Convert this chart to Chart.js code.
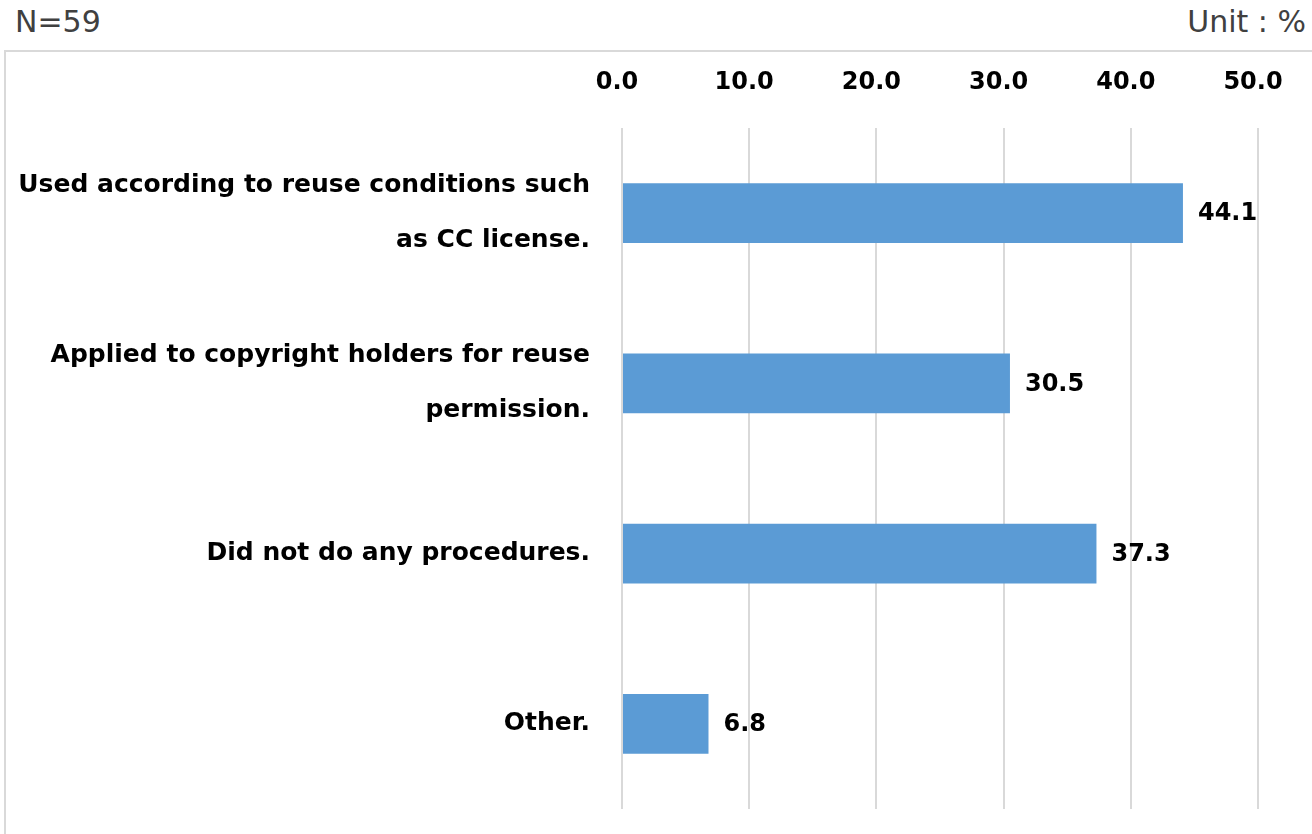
<!DOCTYPE html>
<html>
<head>
<meta charset="utf-8">
<script src="https://cdn.jsdelivr.net/npm/chart.js@4/dist/chart.umd.min.js"></script>
<style>
  html, body { margin: 0; padding: 0; background: #fff; width: 1312px; height: 834px; overflow: hidden; }
  #n { position: absolute; left: 15px; top: 4px; font: 30px "DejaVu Sans", sans-serif; color: #404040; }
  #unit { position: absolute; right: 6px; top: 4px; font: 30px "DejaVu Sans", sans-serif; color: #404040; }
  #box { position: absolute; left: 4px; top: 50px; width: 1400px; height: 900px; border: 2px solid #d9d9d9; box-sizing: border-box; }
  #wrap { position: absolute; left: 0; top: 0; width: 1312px; height: 834px; }
</style>
</head>
<body>
<div id="n">N=59</div>
<div id="unit">Unit : %</div>
<div id="box"></div>
<div id="wrap"><canvas id="c"></canvas></div>
<script>
const categories = [
  ["Used according to reuse conditions such", "as CC license."],
  ["Applied to copyright holders for reuse", "permission."],
  "Did not do any procedures.",
  "Other."
];
const values = [44.1, 30.5, 37.3, 6.8];
const axisMin = 0;
const axisMax = 50;
const axisStep = 10;

const FONT = '"DejaVu Sans", sans-serif';

const valueLabels = {
  id: 'valueLabels',
  afterDatasetsDraw(chart) {
    const ctx = chart.ctx;
    const meta = chart.getDatasetMeta(0);
    ctx.save();
    ctx.font = 'bold 24px ' + FONT;
    ctx.fillStyle = '#000';
    ctx.textAlign = 'left';
    ctx.textBaseline = 'middle';
    meta.data.forEach((bar, i) => {
      ctx.fillText(values[i].toFixed(1), bar.x + 15, bar.y + 1);
    });
    ctx.restore();
  }
};

new Chart(document.getElementById('c'), {
  type: 'bar',
  data: {
    labels: categories,
    datasets: [{
      data: values,
      backgroundColor: '#5b9bd5',
      borderWidth: 0,
      barPercentage: 0.352,
      categoryPercentage: 1
    }]
  },
  options: {
    indexAxis: 'y',
    responsive: true,
    maintainAspectRatio: false,
    animation: false,
    events: [],
    layout: { padding: { left: 0, right: 54, top: 0, bottom: 25 } },
    plugins: { legend: { display: false }, tooltip: { enabled: false } },
    scales: {
      x: {
        position: 'top',
        min: axisMin,
        max: axisMax,
        ticks: {
          stepSize: axisStep,
          color: '#000',
          font: { family: FONT, size: 24, weight: 'bold' },
          padding: 31,
          labelOffset: -5,
          callback: v => Number(v).toFixed(1)
        },
        grid: { color: '#d9d9d9', lineWidth: 2, drawTicks: false },
        border: { display: false },
        afterFit: s => { s.height = 128; s.paddingLeft = 0; s.paddingRight = 0; }
      },
      y: {
        ticks: {
          color: '#000',
          font: { family: FONT, size: 25, weight: 'bold', lineHeight: 2.2 },
          padding: 32
        },
        grid: { display: false, drawTicks: false },
        border: { display: false },
        afterFit: s => { s.width = 622; s.paddingTop = 0; s.paddingBottom = 0; }
      }
    }
  },
  plugins: [valueLabels]
});
</script>
</body>
</html>
